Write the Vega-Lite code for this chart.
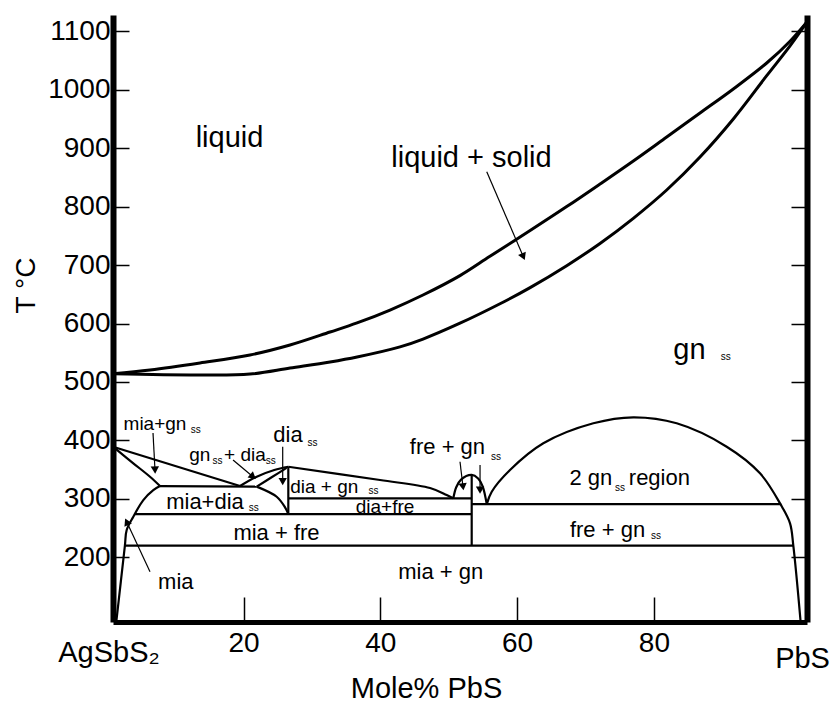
{
  "$schema": "https://vega.github.io/schema/vega-lite/v6.json",
  "width": 694,
  "height": 607,
  "autosize": {"type": "none"},
  "padding": {"left": 113, "top": 15, "right": 24, "bottom": 82},
  "background": "white",
  "config": {
    "view": {"stroke": null},
    "font": "Liberation Sans",
    "axis": {"labelFont": "Liberation Sans", "titleFont": "Liberation Sans", "labelColor": "black", "titleColor": "black", "titleFontWeight": "normal", "domainColor": "black", "tickColor": "black", "grid": false}
  },
  "datasets": {
    "melt": [
      {"id": "liquidus", "x": 0.92, "T": 514},
      {"id": "liquidus", "x": 6.33, "T": 520.5},
      {"id": "liquidus", "x": 13.64, "T": 532.5},
      {"id": "liquidus", "x": 20.95, "T": 546.2},
      {"id": "liquidus", "x": 26.8, "T": 563.3},
      {"id": "liquidus", "x": 32.65, "T": 585.5},
      {"id": "liquidus", "x": 36.6, "T": 601},
      {"id": "liquidus", "x": 41.42, "T": 623.1},
      {"id": "liquidus", "x": 46.24, "T": 648.8},
      {"id": "liquidus", "x": 51.65, "T": 682},
      {"id": "liquidus", "x": 56.03, "T": 715},
      {"id": "liquidus", "x": 61.9, "T": 759},
      {"id": "liquidus", "x": 67.25, "T": 800},
      {"id": "liquidus", "x": 72.12, "T": 838.7},
      {"id": "liquidus", "x": 76.99, "T": 878.1},
      {"id": "liquidus", "x": 81.87, "T": 919.1},
      {"id": "liquidus", "x": 86.74, "T": 960.2},
      {"id": "liquidus", "x": 91.61, "T": 1001.3},
      {"id": "liquidus", "x": 96.49, "T": 1045.7},
      {"id": "liquidus", "x": 99.9, "T": 1083},
      {"id": "liquidus", "x": 102.38, "T": 1116},
      {"id": "solidus", "x": 0.92, "T": 514},
      {"id": "solidus", "x": 13.64, "T": 512},
      {"id": "solidus", "x": 20.95, "T": 513.6},
      {"id": "solidus", "x": 26.8, "T": 523.9},
      {"id": "solidus", "x": 32.65, "T": 534.2},
      {"id": "solidus", "x": 36.6, "T": 542.7},
      {"id": "solidus", "x": 42.88, "T": 560},
      {"id": "solidus", "x": 46.24, "T": 573.4},
      {"id": "solidus", "x": 51.65, "T": 600.5},
      {"id": "solidus", "x": 57.5, "T": 633.8},
      {"id": "solidus", "x": 61.9, "T": 661.5},
      {"id": "solidus", "x": 67.25, "T": 699},
      {"id": "solidus", "x": 72.12, "T": 737},
      {"id": "solidus", "x": 76.99, "T": 780},
      {"id": "solidus", "x": 81.87, "T": 828.4},
      {"id": "solidus", "x": 86.74, "T": 884.9},
      {"id": "solidus", "x": 91.61, "T": 950},
      {"id": "solidus", "x": 96.49, "T": 1024},
      {"id": "solidus", "x": 99.9, "T": 1075},
      {"id": "solidus", "x": 102.38, "T": 1116}
    ],
    "bounds": [
      {"id": "A1", "x": 0.92, "T": 389.3},
      {"id": "A1", "x": 19.49, "T": 322},
      {"id": "A2", "x": 19.49, "T": 322},
      {"id": "A2", "x": 21.93, "T": 338},
      {"id": "A2", "x": 24.5, "T": 349.5},
      {"id": "A2", "x": 26.55, "T": 355},
      {"id": "W", "x": 21.93, "T": 321},
      {"id": "W", "x": 24.17, "T": 337.4},
      {"id": "W", "x": 26.3, "T": 353},
      {"id": "B", "x": 0.92, "T": 389.3},
      {"id": "B", "x": 3.89, "T": 360.9},
      {"id": "B", "x": 6.33, "T": 337.9},
      {"id": "B", "x": 7.79, "T": 322},
      {"id": "MIA", "x": 1.4, "T": 89.4},
      {"id": "MIA", "x": 2.66, "T": 220},
      {"id": "MIA", "x": 2.92, "T": 246.8},
      {"id": "MIA", "x": 3.89, "T": 269.5},
      {"id": "MIA", "x": 5.35, "T": 298},
      {"id": "MIA", "x": 6.81, "T": 315},
      {"id": "MIA", "x": 7.79, "T": 322},
      {"id": "H322", "x": 7.79, "T": 322},
      {"id": "H322", "x": 21.93, "T": 321},
      {"id": "MDR", "x": 21.93, "T": 321},
      {"id": "MDR", "x": 24.85, "T": 303.7},
      {"id": "MDR", "x": 26.07, "T": 285.6},
      {"id": "MDR", "x": 26.55, "T": 274},
      {"id": "V1", "x": 26.55, "T": 355},
      {"id": "V1", "x": 26.55, "T": 274},
      {"id": "H274", "x": 4.1, "T": 274},
      {"id": "H274", "x": 53.36, "T": 274},
      {"id": "H220", "x": 2.66, "T": 220},
      {"id": "H220", "x": 100.38, "T": 220},
      {"id": "DG", "x": 26.55, "T": 355},
      {"id": "DG", "x": 39.96, "T": 332.3},
      {"id": "DG", "x": 47.27, "T": 318.6},
      {"id": "DG", "x": 49.7, "T": 306.6},
      {"id": "DG", "x": 50.67, "T": 301},
      {"id": "H301", "x": 26.55, "T": 301},
      {"id": "H301", "x": 53.36, "T": 301},
      {"id": "V2", "x": 53.36, "T": 341},
      {"id": "V2", "x": 53.36, "T": 220},
      {"id": "SD", "x": 50.67, "T": 301},
      {"id": "SD", "x": 51.1, "T": 320},
      {"id": "SD", "x": 51.8, "T": 333},
      {"id": "SD", "x": 53.36, "T": 341},
      {"id": "SD", "x": 54.3, "T": 335},
      {"id": "SD", "x": 54.95, "T": 322},
      {"id": "SD", "x": 55.56, "T": 291},
      {"id": "H291", "x": 53.36, "T": 291},
      {"id": "H291", "x": 98.6, "T": 291},
      {"id": "BD", "x": 55.56, "T": 291},
      {"id": "BD", "x": 56.29, "T": 312.3},
      {"id": "BD", "x": 58.96, "T": 349.4},
      {"id": "BD", "x": 63.83, "T": 395.1},
      {"id": "BD", "x": 71.14, "T": 429.3},
      {"id": "BD", "x": 76.99, "T": 439.6},
      {"id": "BD", "x": 83.33, "T": 429.3},
      {"id": "BD", "x": 90.64, "T": 389.3},
      {"id": "BD", "x": 95.51, "T": 343.8},
      {"id": "BD", "x": 98.5, "T": 291},
      {"id": "BD", "x": 99.9, "T": 258.2},
      {"id": "BD", "x": 100.38, "T": 220},
      {"id": "BD", "x": 101.45, "T": 89.4}
    ],
    "arrows": [
      {"x": 6.77, "T": 412.7, "x2": 7.06, "T2": 349.4, "heading": 177},
      {"x": 18.47, "T": 366.5, "x2": 21.39, "T2": 337.9, "heading": 130},
      {"x": 25.73, "T": 389.3, "x2": 25.73, "T2": 329.4, "heading": 180},
      {"x": 51.65, "T": 363.6, "x2": 52.09, "T2": 320.8, "heading": 173},
      {"x": 54.58, "T": 357.9, "x2": 54.58, "T2": 315.2, "heading": 180},
      {"x": 6.33, "T": 175.4, "x2": 2.92, "T2": 260.9, "heading": 335},
      {"x": 55.56, "T": 859.8, "x2": 60.91, "T2": 714.3, "heading": 157}
    ],
    "bigText": [
      {"label": "liquid", "x": 17.95, "T": 917},
      {"label": "liquid + solid", "x": 53.33, "T": 883},
      {"label": "gn", "x": 85.2, "T": 555}
    ],
    "midText": [
      {"label": "dia", "x": 26.51, "T": 409},
      {"label": "2 gn", "x": 70.78, "T": 336},
      {"label": "region", "x": 80.8, "T": 336},
      {"label": "fre + gn", "x": 73.22, "T": 247},
      {"label": "mia + gn", "x": 48.83, "T": 175},
      {"label": "mia + fre", "x": 24.82, "T": 241},
      {"label": "mia+dia", "x": 14.37, "T": 295},
      {"label": "fre + gn", "x": 49.82, "T": 389},
      {"label": "mia", "x": 10.1, "T": 158}
    ],
    "smallText": [
      {"label": "mia+gn", "x": 7.06, "T": 428},
      {"label": "gn", "x": 13.6, "T": 375},
      {"label": "+ dia", "x": 20.2, "T": 375},
      {"label": "dia + gn", "x": 31.8, "T": 321},
      {"label": "dia+fre", "x": 40.69, "T": 286}
    ],
    "subText": [
      {"label": "ss", "x": 90.5, "T": 543},
      {"label": "ss", "x": 30.1, "T": 395},
      {"label": "ss", "x": 75.04, "T": 319},
      {"label": "ss", "x": 80.3, "T": 237},
      {"label": "ss", "x": 21.5, "T": 284},
      {"label": "ss", "x": 39.0, "T": 313},
      {"label": "ss", "x": 56.9, "T": 372},
      {"label": "ss", "x": 13.0, "T": 418},
      {"label": "ss", "x": 16.2, "T": 364},
      {"label": "ss", "x": 24.0, "T": 364}
    ],
    "ends": [
      {"label": "AgSbS₂", "x": 0.34, "T": 20.9},
      {"label": "PbS", "x": 101.73, "T": 10.1}
    ]
  },
  "layer": [
    {
      "data": {"name": "melt"},
      "mark": {"type": "line", "color": "black", "strokeWidth": 3, "interpolate": "catmull-rom"},
      "encoding": {
        "x": {"field": "x", "type": "quantitative", "scale": {"domain": [0.92, 102.38], "nice": false, "zero": false},
          "axis": {"values": [20, 40, 60, 80], "domainWidth": 5, "tickSize": -25, "tickWidth": 1.5, "labelFontSize": 28, "labelPadding": 32, "title": "Mole% PbS", "titleFontSize": 29, "titleX": 313, "titleY": 75, "titleBaseline": "alphabetic", "titleAlign": "center"}},
        "y": {"field": "T", "type": "quantitative", "scale": {"domain": [89.4, 1127.8], "nice": false, "zero": false},
          "axis": {"orient": "left", "values": [200, 300, 400, 500, 600, 700, 800, 900, 1000, 1100], "format": "d", "domainWidth": 6, "tickSize": -16, "tickWidth": 1.5, "labelFontSize": 28, "labelPadding": 19, "title": "T °C", "titleFontSize": 28, "titleX": -87, "titleY": 270, "titleAlign": "center", "titleBaseline": "middle", "titleAngle": 270}},
        "detail": {"field": "id"},
        "order": {"value": null}
      }
    },
    {
      "data": {"name": "bounds"},
      "mark": {"type": "line", "color": "black", "strokeWidth": 2.2, "interpolate": "catmull-rom"},
      "encoding": {
        "x": {"field": "x", "type": "quantitative"},
        "y": {"field": "T", "type": "quantitative",
          "axis": {"orient": "right", "values": [200, 300, 400, 500, 600, 700, 800, 900, 1000, 1100], "labels": false, "title": null, "domainWidth": 6, "tickSize": -16, "tickWidth": 1.5}},
        "detail": {"field": "id"},
        "order": {"value": null}
      }
    },
    {
      "data": {"name": "arrows"},
      "mark": {"type": "rule", "color": "black", "strokeWidth": 1.2},
      "encoding": {
        "x": {"field": "x", "type": "quantitative"},
        "y": {"field": "T", "type": "quantitative", "axis": null},
        "x2": {"field": "x2"},
        "y2": {"field": "T2"}
      }
    },
    {
      "data": {"name": "arrows"},
      "mark": {"type": "point", "shape": "triangle-up", "filled": true, "color": "black", "size": 70, "opacity": 1},
      "encoding": {
        "x": {"field": "x2", "type": "quantitative"},
        "y": {"field": "T2", "type": "quantitative", "axis": null},
        "angle": {"field": "heading", "type": "quantitative", "scale": null}
      }
    },
    {
      "data": {"name": "bigText"},
      "mark": {"type": "text", "fontSize": 29, "color": "black", "align": "center", "baseline": "middle", "font": "Liberation Sans"},
      "encoding": {
        "x": {"field": "x", "type": "quantitative"},
        "y": {"field": "T", "type": "quantitative", "axis": null},
        "text": {"field": "label"}
      }
    },
    {
      "data": {"name": "midText"},
      "mark": {"type": "text", "fontSize": 22, "color": "black", "align": "center", "baseline": "middle", "font": "Liberation Sans"},
      "encoding": {
        "x": {"field": "x", "type": "quantitative"},
        "y": {"field": "T", "type": "quantitative", "axis": null},
        "text": {"field": "label"}
      }
    },
    {
      "data": {"name": "smallText"},
      "mark": {"type": "text", "fontSize": 19, "color": "black", "align": "center", "baseline": "middle", "font": "Liberation Sans"},
      "encoding": {
        "x": {"field": "x", "type": "quantitative"},
        "y": {"field": "T", "type": "quantitative", "axis": null},
        "text": {"field": "label"}
      }
    },
    {
      "data": {"name": "subText"},
      "mark": {"type": "text", "fontSize": 10, "color": "black", "align": "center", "baseline": "middle", "font": "Liberation Sans"},
      "encoding": {
        "x": {"field": "x", "type": "quantitative"},
        "y": {"field": "T", "type": "quantitative", "axis": null},
        "text": {"field": "label"}
      }
    },
    {
      "data": {"name": "ends"},
      "mark": {"type": "text", "fontSize": 29, "color": "black", "align": "center", "baseline": "alphabetic", "font": "Liberation Sans"},
      "encoding": {
        "x": {"field": "x", "type": "quantitative"},
        "y": {"field": "T", "type": "quantitative", "axis": null},
        "text": {"field": "label"}
      }
    }
  ],
  "resolve": {"axis": {"y": "independent"}}
}
